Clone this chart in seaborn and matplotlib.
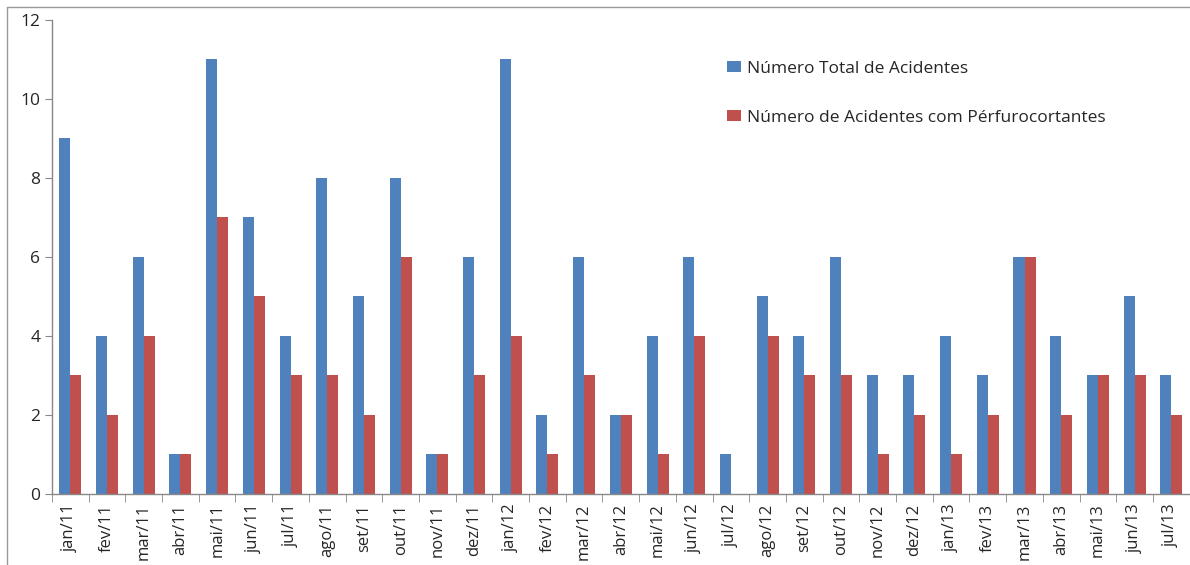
import pandas as pd
import matplotlib.pyplot as plt
import seaborn as sns
from matplotlib.lines import Line2D

# monthly data, jan/11 .. jul/13
months = ["jan/11", "fev/11", "mar/11", "abr/11", "mai/11", "jun/11", "jul/11", "ago/11",
          "set/11", "out/11", "nov/11", "dez/11", "jan/12", "fev/12", "mar/12", "abr/12",
          "mai/12", "jun/12", "jul/12", "ago/12", "set/12", "out/12", "nov/12", "dez/12",
          "jan/13", "fev/13", "mar/13", "abr/13", "mai/13", "jun/13", "jul/13"]
total = [9, 4, 6, 1, 11, 7, 4, 8, 5, 8, 1, 6, 11, 2, 6, 2, 4, 6, 1, 5, 4, 6, 3, 3,
         4, 3, 6, 4, 3, 5, 3]
perfuro = [3, 2, 4, 1, 7, 5, 3, 3, 2, 6, 1, 3, 4, 1, 3, 2, 1, 4, 0, 4, 3, 3, 1, 2,
           1, 2, 6, 2, 3, 3, 2]
series_names = ["Número Total de Acidentes", "Número de Acidentes com Pérfurocortantes"]
colors = ["#4F81BD", "#C0504D"]

df = pd.DataFrame({
    "Mes": months * 2,
    "Valor": total + perfuro,
    "Serie": [series_names[0]] * len(months) + [series_names[1]] * len(months),
})

sns.set_style("white")
plt.rcParams["font.family"] = ["Open Sans", "DejaVu Sans"]

fig = plt.figure(figsize=(11.9, 5.65), dpi=100)
ax = fig.add_axes([0.0437, 0.1257, 0.956, 0.839])

sns.barplot(data=df, x="Mes", y="Valor", hue="Serie", palette=colors,
            width=0.6, gap=0, saturation=1, ax=ax, edgecolor="none")

ax.set_ylim(0, 12)
ax.set_xlim(-0.5, len(months) - 0.5)
ax.set_yticks(range(0, 13, 2))
ax.set_xlabel("")
ax.set_ylabel("")
ax.tick_params(axis="y", labelsize=12.5, length=5, color="#888888", direction="out", left=True)
ax.tick_params(axis="x", labelsize=12, labelrotation=90, bottom=False)
# tick marks between categories
ax.set_xticks([i - 0.5 for i in range(len(months) + 1)], minor=True)
ax.tick_params(axis="x", which="minor", length=6, color="#888888", bottom=True)
for side in ["top", "right"]:
    ax.spines[side].set_visible(False)
for side in ["left", "bottom"]:
    ax.spines[side].set_color("#888888")
    ax.spines[side].set_linewidth(1)

leg = ax.legend(loc="upper left", bbox_to_anchor=(0.598, 0.92), bbox_transform=fig.transFigure,
                frameon=False, fontsize=12.5, labelspacing=1.9, handlelength=0.8,
                handleheight=0.55, handletextpad=0.35)

# outer frame lines
fig.add_artist(Line2D([0.006, 1.0], [0.988, 0.988], color="#999999", lw=1, transform=fig.transFigure))
fig.add_artist(Line2D([0.006, 0.006], [0.0, 0.988], color="#999999", lw=1, transform=fig.transFigure))

fig.savefig("out.png", dpi=100)
